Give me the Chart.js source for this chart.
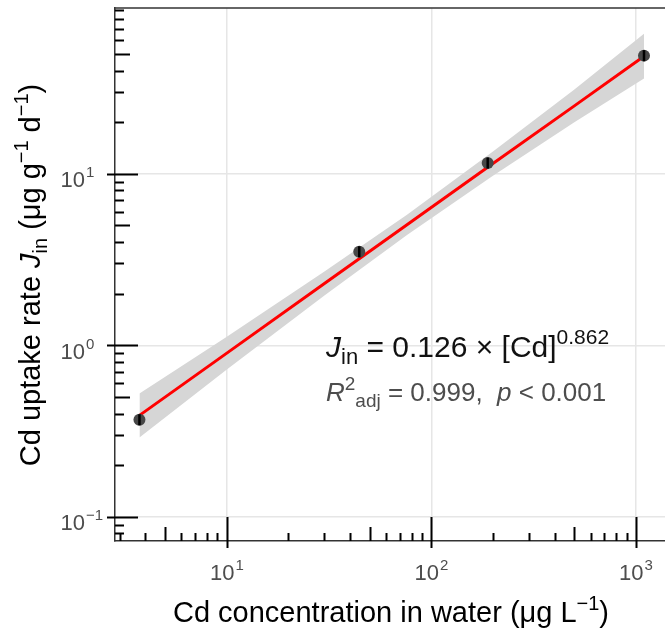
<!DOCTYPE html>
<html>
<head>
<meta charset="utf-8">
<script src="https://cdn.jsdelivr.net/npm/chart.js@4/dist/chart.umd.min.js"></script>
<style>
  html, body { margin: 0; padding: 0; background: #ffffff; }
  #wrap { width: 665px; height: 633px; position: relative; }
</style>
</head>
<body>
<div id="wrap"><canvas id="c"></canvas></div>
<script>
// ---- data ----
const concentration = [3.74, 44.4, 188.5, 1095];      // Cd in water (µg/L)
const uptakeRate    = [0.368, 3.51, 11.55, 48.9];     // J_in (µg g-1 d-1)

const fitX      = [3.74, 10, 30, 76, 200, 500, 1095];
const fitY      = [0.39, 0.90, 2.29, 5.04, 11.5, 24.9, 48.5];
const bandUpper = [0.524, 1.12, 2.69, 5.78, 13.5, 31.0, 65.5];
const bandLower = [0.290, 0.723, 1.95, 4.39, 9.75, 20.0, 36.0];

const xMajorTicks = [10, 100, 1000];
const xTickExponents = ['1', '2', '3'];
const xMinorTicks = [3, 4, 5, 6, 7, 8, 9, 20, 30, 40, 50, 60, 70, 80, 90, 200, 300, 400, 500, 600, 700, 800, 900];
const yMajorTicks = [0.1, 1, 10];
const yTickExponents = ['−1', '0', '1'];
const yMinorTicks = [0.08, 0.09, 0.2, 0.3, 0.4, 0.5, 0.6, 0.7, 0.8, 0.9, 2, 3, 4, 5, 6, 7, 8, 9, 20, 30, 40, 50, 60, 70, 80, 90];
const tickBase = '10';

const FONT = '"Liberation Sans", Arial, Helvetica, sans-serif';

function pts(xs, ys) { return xs.map((x, i) => ({x: x, y: ys[i]})); }

// rich text helper
function partFont(p, size) {
  const s = (p.sup || p.sub) ? (p.size || size * 0.72) : size;
  return (p.italic ? 'italic ' : '') + s + 'px ' + FONT;
}
function richWidth(ctx, parts, size) {
  let w = 0;
  parts.forEach(p => {
    ctx.font = partFont(p, size);
    w += ctx.measureText(p.t).width + (p.gap || 0);
  });
  return w;
}
function drawRich(ctx, parts, x, y, size, color, align) {
  const w = richWidth(ctx, parts, size);
  let cx = align === 'center' ? x - w / 2 : (align === 'right' ? x - w : x);
  ctx.fillStyle = color;
  ctx.textBaseline = 'alphabetic';
  ctx.textAlign = 'left';
  parts.forEach(p => {
    ctx.font = partFont(p, size);
    let dy = 0;
    if (p.sup) dy = -(p.raise || size * 0.42);
    if (p.sub) dy = size * 0.24;
    ctx.fillText(p.t, cx, y + dy);
    cx += ctx.measureText(p.t).width + (p.gap || 0);
  });
}

const decorPlugin = {
  id: 'decor',
  afterDraw(chart) {
    const ctx = chart.ctx;
    const xs = chart.scales.x, ys = chart.scales.y;
    const a = chart.chartArea;
    ctx.save();
    // top border
    ctx.strokeStyle = '#333333';
    ctx.lineWidth = 1.5;
    ctx.beginPath(); ctx.moveTo(a.left, a.top); ctx.lineTo(a.right, a.top); ctx.stroke();
    // ticks
    ctx.strokeStyle = '#000000';
    ctx.lineWidth = 2;
    ctx.beginPath();
    xMinorTicks.forEach(v => {
      const px = Math.round(xs.getPixelForValue(v)) + 0.5;
      const len = (v === 5 || v === 50 || v === 500) ? 14 : 8;
      ctx.moveTo(px, a.bottom); ctx.lineTo(px, a.bottom - len);
    });
    xMajorTicks.forEach(v => {
      const px = Math.round(xs.getPixelForValue(v)) + 0.5;
      ctx.moveTo(px, a.bottom + 7); ctx.lineTo(px, a.bottom - 24);
    });
    yMinorTicks.forEach(v => {
      const py = Math.round(ys.getPixelForValue(v)) + 0.5;
      const len = (v === 0.5 || v === 5 || v === 50) ? 15 : 9;
      ctx.moveTo(a.left, py); ctx.lineTo(a.left + len, py);
    });
    yMajorTicks.forEach(v => {
      const py = Math.round(ys.getPixelForValue(v)) + 0.5;
      ctx.moveTo(a.left - 8, py); ctx.lineTo(a.left + 23, py);
    });
    ctx.stroke();

    // tick labels (10^n)
    xMajorTicks.forEach((v, i) => {
      const px = xs.getPixelForValue(v);
      drawRich(ctx, [
        {t: tickBase, gap: 1},
        {t: xTickExponents[i], sup: true, size: 15, raise: 10}
      ], px, 580, 22, '#4d4d4d', 'center');
    });
    yMajorTicks.forEach((v, i) => {
      const py = ys.getPixelForValue(v);
      ctx.font = '22px ' + FONT;
      const bw = ctx.measureText(tickBase).width;
      drawRich(ctx, [
        {t: tickBase, gap: 1},
        {t: yTickExponents[i], sup: true, size: 15, raise: 10}
      ], 85 - bw, py + 13.5, 22, '#4d4d4d', 'left');
    });

    // axis titles
    drawRich(ctx, [
      {t: 'Cd concentration in water (μg L'},
      {t: '−1', sup: true, size: 20, raise: 12},
      {t: ')'}
    ], 391, 622, 29, '#000000', 'center');

    ctx.save();
    ctx.translate(40, 275);
    ctx.rotate(-Math.PI / 2);
    drawRich(ctx, [
      {t: 'Cd uptake rate '},
      {t: 'J', italic: true},
      {t: 'in', sub: true, size: 20, gap: 8},
      {t: '(μg g'},
      {t: '−1', sup: true, size: 20, raise: 12, gap: 8},
      {t: 'd'},
      {t: '−1', sup: true, size: 20, raise: 12},
      {t: ')'}
    ], 0, 0, 29, '#000000', 'center');
    ctx.restore();

    // annotation
    drawRich(ctx, [
      {t: 'J', italic: true},
      {t: 'in', sub: true, size: 22},
      {t: ' = 0.126 × [Cd]'},
      {t: '0.862', sup: true, size: 21, raise: 13}
    ], 326, 357, 30, '#111111', 'left');
    drawRich(ctx, [
      {t: 'R', italic: true},
      {t: '2', sup: true, size: 19, raise: 11},
      {t: 'adj', sub: true, size: 19},
      {t: ' = 0.999,  '},
      {t: 'p', italic: true},
      {t: ' < 0.001'}
    ], 326, 401, 26, '#4d4d4d', 'left');
    ctx.restore();
  }
};

new Chart(document.getElementById('c'), {
  type: 'scatter',
  data: {
    datasets: [
      { // vertical bar inside the points
        data: pts(concentration, uptakeRate),
        pointStyle: 'line', rotation: 90, pointRadius: 5.5,
        borderColor: '#000000', borderWidth: 2.5, showLine: false
      },
      {
        data: pts(concentration, uptakeRate),
        pointStyle: 'circle', pointRadius: 6,
        backgroundColor: '#474747', borderColor: '#474747', borderWidth: 0, showLine: false
      },
      {
        data: pts(fitX, fitY),
        showLine: true, borderColor: '#ff0000', borderWidth: 3, pointRadius: 0, tension: 0
      },
      {
        data: pts(fitX, bandUpper),
        showLine: true, borderWidth: 0, borderColor: 'rgba(0,0,0,0)', pointRadius: 0,
        backgroundColor: '#d6d6d6', fill: '+1'
      },
      {
        data: pts(fitX, bandLower),
        showLine: true, borderWidth: 0, borderColor: 'rgba(0,0,0,0)', pointRadius: 0, fill: false
      }
    ]
  },
  options: {
    responsive: true,
    maintainAspectRatio: false,
    animation: false,
    layout: { padding: { top: 8, right: 0, left: 0, bottom: 0 }, autoPadding: false },
    plugins: { legend: { display: false }, tooltip: { enabled: false } },
    scales: {
      x: {
        type: 'logarithmic',
        bounds: 'data',
        min: 2.84, max: 1387,
        afterBuildTicks: s => { s.ticks = xMajorTicks.map(v => ({value: v})); },
        afterFit: s => { s.height = 92; s.paddingLeft = 0; s.paddingRight = 0; },
        ticks: { display: false, autoSkip: false },
        grid: { color: '#e6e6e6', lineWidth: 1.5, drawTicks: false },
        border: { display: true, color: '#333333', width: 1.5 }
      },
      y: {
        type: 'logarithmic',
        bounds: 'data',
        min: 0.0722, max: 92.7,
        afterBuildTicks: s => { s.ticks = yMajorTicks.map(v => ({value: v})); },
        afterFit: s => { s.width = 115; s.paddingTop = 0; s.paddingBottom = 0; },
        ticks: { display: false, autoSkip: false },
        grid: { color: '#e6e6e6', lineWidth: 1.5, drawTicks: false },
        border: { display: true, color: '#333333', width: 1.5 }
      }
    }
  },
  plugins: [decorPlugin]
});
</script>
</body>
</html>
